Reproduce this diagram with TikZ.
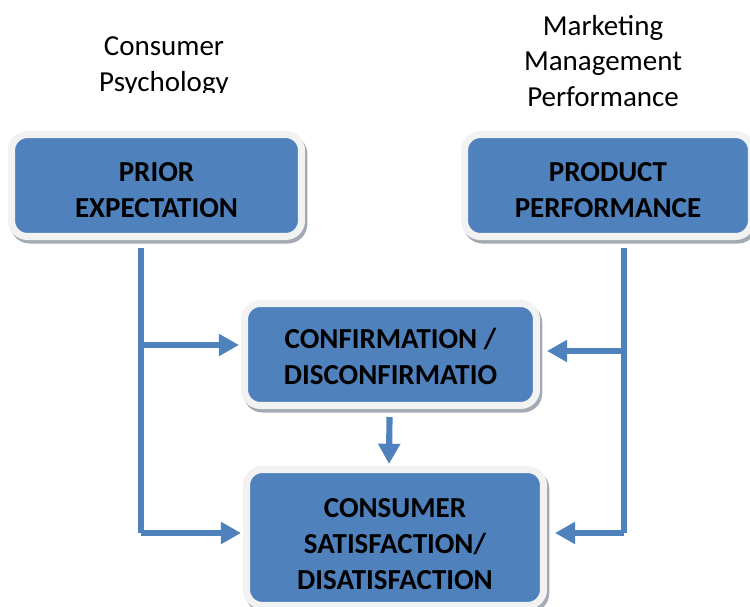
\documentclass[tikz,border=0pt]{standalone}
\usepackage{fontspec}
\setmainfont{Carlito}
\usepackage{tikz}
\usetikzlibrary{arrows.meta,calc}
\definecolor{boxblue}{HTML}{4F81BD}
\definecolor{framegray}{HTML}{F2F2F2}
\definecolor{shadowgray}{HTML}{A3AAB4}
\newcommand{\boxlines}[2][8pt]{\raisebox{0pt}[\dimexpr\height+#1\relax][\depth]{\begin{tabular}{@{}c@{}}#2\end{tabular}}}
\tikzstyle{blockbox} = [rectangle, rounded corners=9pt, fill=boxblue, draw=framegray,
  line width=4pt, inner sep=0pt, font={\bfseries\fontsize{16.5}{20.4}\selectfont},
  text=black, minimum height=2.04cm,
  preaction={draw=shadowgray, line width=4pt, transform canvas={xshift=1.3pt, yshift=-2pt}}]
\tikzstyle{toplabel} = [align=center, font={\fontsize{16.5}{20.4}\selectfont}]
\tikzstyle{flowline} = [draw=boxblue, line width=3.5pt]
\tikzstyle{flowarrow} = [flowline, -{Triangle[length=11.5pt, width=12pt]}]

\begin{document}
\begin{tikzpicture}[x=0.02cm, y=-0.02cm]
  \useasboundingbox (0,0) rectangle (750,607);

  % labels on top
  \begin{scope}
    \clip (0,0) rectangle (330,92.5);
    \node[toplabel] (psylbl) at (164,67) {Consumer\\Psychology};
  \end{scope}
  \node[toplabel] (mktlbl) at (603,61) {Marketing\\Management\\Performance};

  % boxes
  \node[blockbox, minimum width=5.8cm] (prior) at (156.5,185.5) {\boxlines{PRIOR\\EXPECTATION}};
  \node[blockbox, minimum width=5.74cm] (product) at (608,185.5) {\boxlines{PRODUCT\\PERFORMANCE}};
  \node[blockbox, minimum width=5.84cm] (conf) at (390.5,354.5)
    {\boxlines[5.6pt]{CONFIRMATION /\\DISCONFIRMATIO}};
  \node[blockbox, minimum width=5.94cm, minimum height=2.72cm] (sat) at (395,537.5)
    {\boxlines[10pt]{CONSUMER\\SATISFACTION/\\DISATISFACTION}};

  % branch points
  \coordinate (lsplit) at (141,345);
  \coordinate (lcorner) at (141,533);
  \coordinate (rsplit) at (624,351);
  \coordinate (rcorner) at (624,533);

  % connectors
  \draw[flowline] ($(prior.south -| lsplit)+(0,8)$) -- (lcorner);
  \draw[flowarrow] (lsplit) -- ($(lsplit -| conf.west)+(-2,0)$);
  \draw[flowarrow] (lcorner) -- ($(lcorner -| sat.west)+(-2,0)$);
  \draw[flowline] ($(product.south -| rsplit)+(0,8)$) -- (rcorner);
  \draw[flowarrow] (rsplit) -- ($(rsplit -| conf.east)+(7,0)$);
  \draw[flowarrow] (rcorner) -- ($(rcorner -| sat.east)+(8,0)$);
  \draw[flowarrow] ($(conf.south)+(-1,8)$) -- ($(sat.north)+(-6,-2)$);

\end{tikzpicture}
\end{document}
